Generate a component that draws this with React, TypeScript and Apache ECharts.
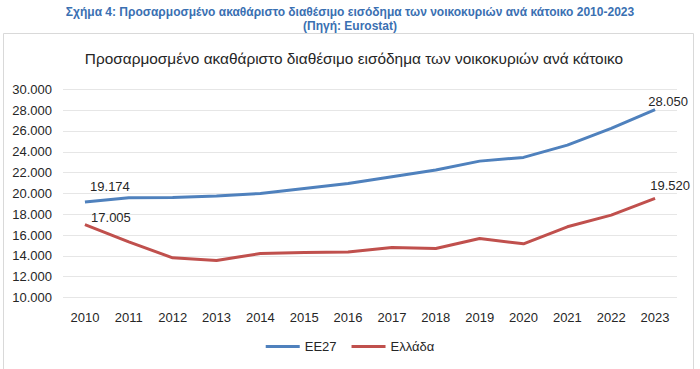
import React, { useEffect, useRef } from "react";
import * as echarts from "echarts";

const years = ["2010","2011","2012","2013","2014","2015","2016","2017","2018","2019","2020","2021","2022","2023"];
const eu27 = [19174, 19580, 19610, 19740, 20000, 20480, 20960, 21600, 22240, 23100, 23460, 24640, 26250, 28050];
const greece = [17005, 15350, 13810, 13560, 14230, 14330, 14380, 14810, 14710, 15670, 15160, 16790, 17910, 19520];
const seriesNames = ["ΕΕ27", "Ελλάδα"];
const topTitle = "Σχήμα 4: Προσαρμοσμένο ακαθάριστο διαθέσιμο εισόδημα των νοικοκυριών ανά κάτοικο 2010-2023";
const topSubtitle = "(Πηγή: Eurostat)";
const chartTitle = "Προσαρμοσμένο ακαθάριστο διαθέσιμο εισόδημα των νοικοκυριών ανά κάτοικο";

const fmt = (v: number) => String(Math.round(v)).replace(/\B(?=(\d{3})+(?!\d))/g, ".");

export default function App() {
  const ref = useRef<HTMLDivElement>(null);
  useEffect(() => {
    if (!ref.current) return;
    const chart = echarts.init(ref.current, null, { renderer: "svg" });
    const font = "'Liberation Sans', Arial, sans-serif";
    const endLabel = (data: number[], firstOff: number[], lastOff: number[]) =>
      data.map((v, i) =>
        i === 0 || i === data.length - 1
          ? {
              value: v,
              label: {
                show: true,
                position: "top",
                distance: 7,
                offset: i === 0 ? firstOff : lastOff,
                formatter: (p: any) => fmt(p.value),
                color: "#262626",
                fontSize: 13,
                fontFamily: font,
              },
            }
          : v
      );
    chart.setOption({
      animation: false,
      backgroundColor: "#fff",
      graphic: [
        { type: "rect", shape: { x: 3.5, y: 33.5, width: 690, height: 340 }, style: { fill: "#fff", stroke: "#d9d9d9", lineWidth: 1 }, z: -10 },
      ],
      title: [
        { text: topTitle, left: "center", top: 1, textStyle: { color: "#3A70B2", fontSize: 12, fontWeight: "bold", fontFamily: font } },
        { text: topSubtitle, left: "center", top: 15, textStyle: { color: "#3A70B2", fontSize: 12, fontWeight: "bold", fontFamily: font } },
        { text: chartTitle, left: 349, textAlign: "center", top: 46, textStyle: { color: "#262626", fontSize: 15.4, fontWeight: "normal", fontFamily: font } },
      ],
      grid: { left: 63, right: 23, top: 89.3, bottom: 369 - 297.5 },
      legend: {
        bottom: 11,
        left: "center",
        itemWidth: 34,
        itemHeight: 3,
        itemGap: 15,
        icon: "rect",
        textStyle: { color: "#262626", fontSize: 13, fontFamily: font },
        data: seriesNames,
      },
      xAxis: {
        type: "category",
        data: years,
        boundaryGap: true,
        axisLine: { show: false },
        axisTick: { show: false },
        axisLabel: { color: "#262626", fontSize: 13, fontFamily: font, margin: 13 },
      },
      yAxis: {
        type: "value",
        min: 10000,
        max: 30000,
        interval: 2000,
        axisLine: { show: false },
        axisTick: { show: false },
        splitLine: { lineStyle: { color: "#e6e6e6", width: 1 } },
        axisLabel: { color: "#262626", fontSize: 13, fontFamily: font, margin: 11, formatter: (v: number) => fmt(v) },
      },
      series: [
        {
          name: seriesNames[0],
          type: "line",
          data: endLabel(eu27, [25, -2], [13, 5]),
          symbol: "circle",
          symbolSize: 0,
          showSymbol: true,
          lineStyle: { color: "#4F81BD", width: 3 },
          itemStyle: { color: "#4F81BD" },
        },
        {
          name: seriesNames[1],
          type: "line",
          data: endLabel(greece, [26, 6], [15, 1]),
          symbol: "circle",
          symbolSize: 0,
          showSymbol: true,
          lineStyle: { color: "#C0504D", width: 3 },
          itemStyle: { color: "#C0504D" },
        },
      ],
    });
    return () => chart.dispose();
  }, []);
  return <div ref={ref} style={{ position: "fixed", left: 0, top: 0, width: 700, height: 369 }} />;
}
